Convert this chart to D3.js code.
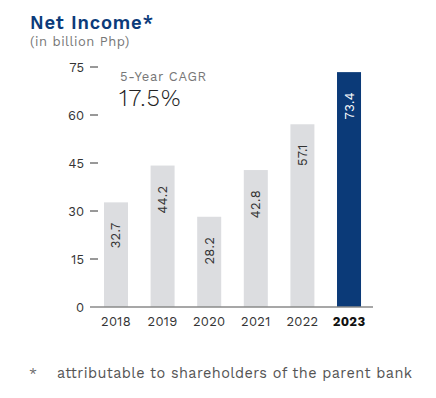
<!DOCTYPE html>
<html><head><meta charset="utf-8">
<script src="https://cdn.jsdelivr.net/npm/d3@7"></script>
<style>body{margin:0;background:#fff}svg{display:block}</style>
</head><body>
<svg id="c" width="436" height="398"></svg>
<script>
const years = ["2018","2019","2020","2021","2022","2023"];
const values = [32.7, 44.2, 28.2, 42.8, 57.1, 73.4];
const yTicks = [0, 15, 30, 45, 60, 75];
const highlightYear = "2023";
const title = "Net Income*";
const subtitle = "(in billion Php)";
const cagrLabel = "5-Year CAGR";
const cagrValue = "17.5%";
const footnoteMark = "*";
const footnote = "attributable to shareholders of the parent bank";

const font = "'Work Sans', Inter, 'Open Sans', sans-serif";
const svg = d3.select("#c");
const x = d3.scaleBand().domain(years).range([90, 375]).paddingInner(0.485).paddingOuter(0.3);
const y = d3.scaleLinear().domain([0, 75]).range([307, 67]);

svg.append("text").attr("x", 30).attr("y", 29).text(title)
  .attr("font-family", font).attr("font-size", 18.5).attr("font-weight", 600)
  .attr("letter-spacing", 0.8).attr("fill", "#0b3b7a");
svg.append("text").attr("x", 30).attr("y", 46).text(subtitle)
  .attr("font-family", font).attr("font-size", 13).attr("letter-spacing", 0.5).attr("fill", "#777");

// y ticks
const tg = svg.append("g");
yTicks.forEach(t => {
  tg.append("text").attr("x", 84).attr("y", y(t)).attr("dy", "0.35em").attr("text-anchor", "end")
    .text(t).attr("font-family", font).attr("font-size", 13).attr("fill", "#333");
  if (t > 0) tg.append("line").attr("x1", 90).attr("x2", 98).attr("y1", y(t)).attr("y2", y(t))
    .attr("stroke", "#333").attr("stroke-width", 1);
});

// bars
svg.selectAll("rect.bar").data(years).enter().append("rect").attr("class", "bar")
  .attr("x", d => x(d)).attr("width", x.bandwidth())
  .attr("y", (d, i) => y(values[i])).attr("height", (d, i) => y(0) - y(values[i]))
  .attr("fill", d => d === highlightYear ? "#0b3a78" : "#dcdde0");

// baseline
svg.append("line").attr("x1", 90).attr("x2", 373).attr("y1", y(0)).attr("y2", y(0))
  .attr("stroke", "#8a8a8a").attr("stroke-width", 1.5);

// value labels
svg.selectAll("text.val").data(years).enter().append("text").attr("class", "val")
  .attr("transform", (d, i) => `translate(${x(d) + x.bandwidth() / 2 + 4.5},${y(values[i]) + 20}) rotate(-90)`)
  .attr("text-anchor", "end").text((d, i) => values[i].toFixed(1))
  .attr("font-family", font).attr("font-size", 13).attr("letter-spacing", 0.3)
  .attr("fill", d => d === highlightYear ? "#fff" : "#333");

// x labels
svg.selectAll("text.yr").data(years).enter().append("text").attr("class", "yr")
  .attr("x", d => x(d) + x.bandwidth() / 2).attr("y", 326).attr("text-anchor", "middle")
  .text(d => d).attr("font-family", font).attr("font-size", 13).attr("letter-spacing", 0.3)
  .attr("font-weight", d => d === highlightYear ? 700 : 400)
  .attr("fill", d => d === highlightYear ? "#111" : "#333");

// CAGR
svg.append("text").attr("x", 120).attr("y", 81).text(cagrLabel)
  .attr("font-family", font).attr("font-size", 13).attr("letter-spacing", 0.7).attr("fill", "#777");
svg.append("text").attr("x", 119).attr("y", 106).text(cagrValue)
  .attr("font-family", font).attr("font-size", 24).attr("font-weight", 300)
  .attr("letter-spacing", 1).attr("fill", "#222");

// footnote
svg.append("text").attr("x", 29).attr("y", 378).text(footnoteMark)
  .attr("font-family", font).attr("font-size", 14).attr("fill", "#666");
svg.append("text").attr("x", 57).attr("y", 378).text(footnote)
  .attr("font-family", font).attr("font-size", 14.5).attr("letter-spacing", 0.4).attr("fill", "#555");
</script>
</body></html>
